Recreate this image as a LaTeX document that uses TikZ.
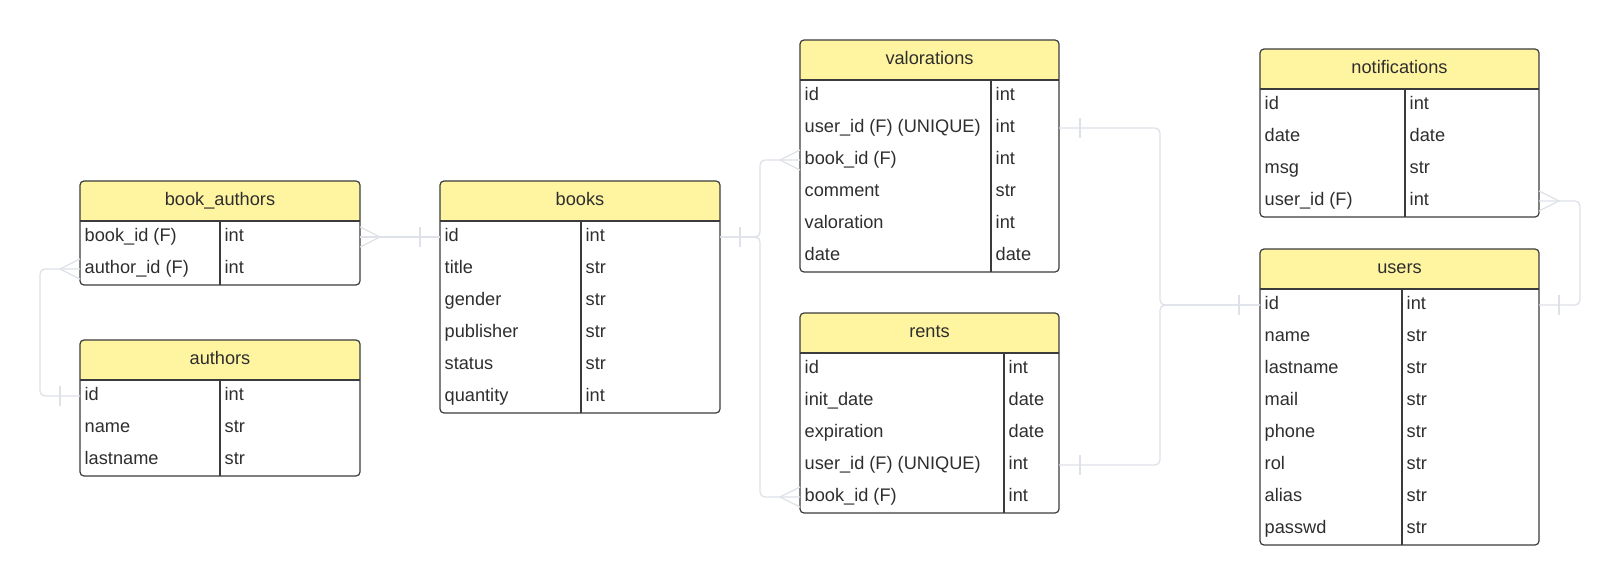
\documentclass[tikz,border=0pt]{standalone}
\usepackage{fontspec}
\setmainfont{Liberation Sans}
\usepackage{tikz}
\usepackage{xcolor}
\definecolor{headyellow}{HTML}{FFF5A1}
\definecolor{linegray}{HTML}{DDE1E8}
\definecolor{boxgray}{HTML}{3B3B3B}
\definecolor{textgray}{HTML}{2E2E2E}

% table: name, left, top, right, divider, rows, title, fields
\newcommand{\ertable}[8]{%
 \pgfmathsetmacro{\tbot}{#3+40+32*#6}
 \begin{scope}
  \clip[rounded corners=4] (#2,#3) rectangle (#4,\tbot);
  \fill[headyellow] (#2,#3) rectangle (#4,#3+40);
 \end{scope}
 \draw[boxline,rounded corners=4] (#2,#3) rectangle (#4,\tbot);
 \draw[boxline] (#2,#3+40)--(#4,#3+40);
 \draw[boxline] (#5,#3+40)--(#5,\tbot);
 \node[anchor=base] (#1) at ({(#2+#4)/2},#3+24.5) {#7};
 \foreach \fname/\ftype [count=\i] in {#8}
  {\pgfmathsetmacro{\rc}{#3+24+32*\i}
   \coordinate (#1-l\i) at (#2,\rc);
   \coordinate (#1-r\i) at (#4,\rc);
   \node[anchor=base west] (#1-n\i) at (#2+4.5,\rc+4.5) {\fname};
   \node[anchor=base west] (#1-t\i) at (#5+4.5,\rc+4.5) {\ftype};
  };
}

\begin{document}
\begin{tikzpicture}[x=1pt,y=-1pt,
  every node/.style={font=\fontsize{18.2}{22}\selectfont,text=textgray,inner sep=0},
  boxline/.style={draw=boxgray,line width=1.2},
  conn/.style={draw=linegray,line width=1.3,rounded corners=5},
  endmark/.style={draw=linegray,line width=1.3}]
\useasboundingbox (0,0) rectangle (1621,585);

\ertable{ba}{80}{181}{360}{220}{2}{book\_authors}{book\_id (F)/int, author\_id (F)/int}
\ertable{au}{80}{340}{360}{220}{3}{authors}{id/int, name/str, lastname/str}
\ertable{bk}{440}{181}{720}{581}{6}{books}{id/int, title/str, gender/str, publisher/str, status/str, quantity/int}
\ertable{va}{800}{40}{1059}{991}{6}{valorations}{id/int, user\_id (F) (UNIQUE)/int, book\_id (F)/int, comment/str, valoration/int, date/date}
\ertable{re}{800}{313}{1059}{1004}{5}{rents}{id/int, init\_date/date, expiration/date, user\_id (F) (UNIQUE)/int, book\_id (F)/int}
\ertable{no}{1260}{49}{1539}{1405}{4}{notifications}{id/int, date/date, msg/str, user\_id (F)/int}
\ertable{us}{1260}{249}{1539}{1402}{8}{users}{id/int, name/str, lastname/str, mail/str, phone/str, rol/str, alias/str, passwd/str}

% relations
\draw [conn] (ba-r1)--(bk-l1);
\draw [conn] (ba-l2)--++(-40,0) |- (au-l1);
\draw [conn] (bk-r1)--++(40,0) |- (va-l3);
\draw [conn] (bk-r1)--++(40,0) |- (re-l5);
\draw [conn] (va-r2)--++(101,0) |- (us-l1);
\draw [conn] (re-r4)--++(101,0) |- (us-l1);
\draw [conn] (no-r4)--++(41,0) |- (us-r1);

% many ends
\draw [endmark] (ba-r1) ++(0,-10)--++(20,10)--++(-20,10);
\draw [endmark] (ba-l2) ++(0,-10)--++(-20,10)--++(20,10);
\draw [endmark] (va-l3) ++(0,-10)--++(-20,10)--++(20,10);
\draw [endmark] (re-l5) ++(0,-10)--++(-20,10)--++(20,10);
\draw [endmark] (no-r4) ++(0,-10)--++(20,10)--++(-20,10);

% one ends
\draw [endmark] (bk-l1) ++(-20,-10)--++(0,20);
\draw [endmark] (au-l1) ++(-20,-10)--++(0,20);
\draw [endmark] (bk-r1) ++(20,-10)--++(0,20);
\draw [endmark] (va-r2) ++(21,-10)--++(0,20);
\draw [endmark] (re-r4) ++(21,-10)--++(0,20);
\draw [endmark] (us-l1) ++(-21,-10)--++(0,20);
\draw [endmark] (us-r1) ++(20,-10)--++(0,20);
\end{tikzpicture}
\end{document}
